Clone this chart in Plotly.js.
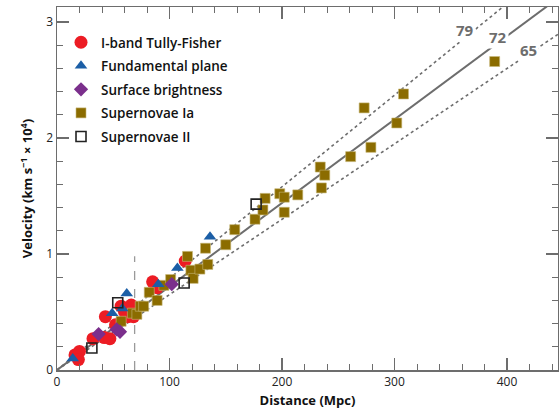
<!DOCTYPE html>
<html><head><meta charset="utf-8">
<script src="https://cdn.plot.ly/plotly-3.0.1.min.js"></script>
<style>html,body{margin:0;padding:0;background:#fff}</style>
</head><body><div id="chart" style="width:559px;height:409px"></div>
<script>
// Distances in Mpc, velocities in units of 10^4 km/s
const tfDist = [16, 20, 19, 32, 42, 47, 43, 52, 57, 60, 63, 66, 68, 85, 89, 114];
const tfVel  = [0.13, 0.16, 0.09, 0.27, 0.28, 0.27, 0.46, 0.39, 0.55, 0.50, 0.46, 0.56, 0.46, 0.76, 0.71, 0.94];

const fpDist = [14, 49, 58, 62, 90, 107, 136];
const fpVel  = [0.10, 0.49, 0.53, 0.66, 0.74, 0.88, 1.15];

const sbDist = [37, 53, 56, 102];
const sbVel  = [0.31, 0.35, 0.33, 0.74];

const snIaDist = [57, 67, 71, 74, 77, 82, 89, 95, 101, 116, 119, 121, 127, 134, 132, 150, 158, 176, 183, 185, 198, 202, 202, 214, 234, 238, 235, 261, 273, 279, 302, 308, 389];
const snIaVel  = [0.42, 0.49, 0.48, 0.55, 0.55, 0.67, 0.60, 0.73, 0.78, 0.98, 0.86, 0.79, 0.87, 0.91, 1.05, 1.08, 1.21, 1.30, 1.38, 1.48, 1.52, 1.49, 1.36, 1.51, 1.75, 1.68, 1.57, 1.84, 2.26, 1.92, 2.13, 2.38, 2.66];

const snIIDist = [31, 54, 113, 177];
const snIIVel  = [0.19, 0.58, 0.75, 1.43];

const hubbleValues = [79, 72, 65];           // km/s/Mpc
const hubbleLabels = ['79', '72', '65'];
const lineDist = [0, 460];
const cutoffDist = 69;
const cutoffVel = [0, 0.98];

const traces = [];
hubbleValues.forEach((h, i) => {
  traces.push({
    x: lineDist, y: lineDist.map(d => d * h / 1e4),
    mode: 'lines', showlegend: false, hoverinfo: 'skip',
    line: {color: '#6d6d6d', width: h === 72 ? 2 : 1.6, dash: h === 72 ? 'solid' : 'dot'}
  });
});
traces.push({x: [cutoffDist, cutoffDist], y: cutoffVel, mode: 'lines', showlegend: false,
  line: {color: '#9a9a9a', width: 1.3, dash: 'dash'}});

traces.push({name: 'I-band Tully-Fisher', x: tfDist, y: tfVel, mode: 'markers', legendrank: 1, legendgroup: 'a',
  marker: {symbol: 'circle', size: 13, color: '#ec1c24'}});
traces.push({name: 'Supernovae Ia', x: snIaDist, y: snIaVel, mode: 'markers', legendrank: 4, legendgroup: 'd',
  marker: {symbol: 'square', size: 10, color: '#8b6c00', line: {color: '#c8b878', width: 0.6}}});
traces.push({name: 'Fundamental plane', x: fpDist, y: fpVel, mode: 'markers', legendrank: 2, legendgroup: 'b',
  marker: {symbol: 'triangle-up', size: 11, color: '#1b5ea6'}});
traces.push({name: 'Surface brightness', x: sbDist, y: sbVel, mode: 'markers', legendrank: 3, legendgroup: 'c',
  marker: {symbol: 'diamond', size: 11, color: '#7b2f8c'}});
traces.push({name: 'Supernovae II', x: snIIDist, y: snIIVel, mode: 'markers', legendrank: 5, legendgroup: 'e',
  marker: {symbol: 'square-open', size: 10, color: '#222', line: {width: 1.6}}});

const axisCommon = {
  showgrid: false, zeroline: false, showline: true, linecolor: '#6d6d6d', linewidth: 1.5,
  mirror: 'ticks', ticks: 'inside', ticklen: 12, tickwidth: 1.2, tickcolor: '#6d6d6d',
  tickfont: {family: 'Open Sans, sans-serif', size: 12, color: '#222'},
  minor: {ticks: 'inside', ticklen: 6, tickwidth: 1, tickcolor: '#6d6d6d'}
};

const layout = {
  width: 559, height: 409,
  margin: {l: 57, r: 1, t: 7, b: 39},
  paper_bgcolor: '#fff', plot_bgcolor: '#fff',
  showlegend: true,
  legend: {x: 0.008, y: 0.945, xanchor: 'left', yanchor: 'top', bgcolor: 'rgba(0,0,0,0)',
    tracegroupgap: 3, traceorder: 'grouped',
    font: {family: 'Open Sans, sans-serif', size: 13.5, color: '#111', weight: 600}},
  xaxis: Object.assign({}, axisCommon, {
    range: [0, 445.3], tickvals: [0, 100, 200, 300, 400], minor: Object.assign({}, axisCommon.minor, {dtick: 20}),
    title: {text: 'Distance (Mpc)', standoff: 8, font: {family: 'Open Sans, sans-serif', size: 13, color: '#111', weight: 700}}
  }),
  yaxis: Object.assign({}, axisCommon, {
    range: [0, 3.13], tickvals: [0, 1, 2, 3], minor: Object.assign({}, axisCommon.minor, {dtick: 0.2}),
    title: {text: 'Velocity (km s<sup>−1</sup> × 10<sup>4</sup>)', standoff: 10, font: {family: 'Open Sans, sans-serif', size: 13, color: '#111', weight: 700}}
  }),
  annotations: [
    {x: 362.7, y: 2.93},
    {x: 392, y: 2.87},
    {x: 418.7, y: 2.76}
  ].map((a, i) => Object.assign(a, {text: hubbleLabels[i], showarrow: false, bgcolor: '#fff', borderpad: 1,
    font: {family: 'Open Sans, sans-serif', size: 15, color: '#6d6d6d', weight: 700}}))
};

Plotly.newPlot('chart', traces, layout, {displayModeBar: false, staticPlot: true});
</script>
</body></html>
